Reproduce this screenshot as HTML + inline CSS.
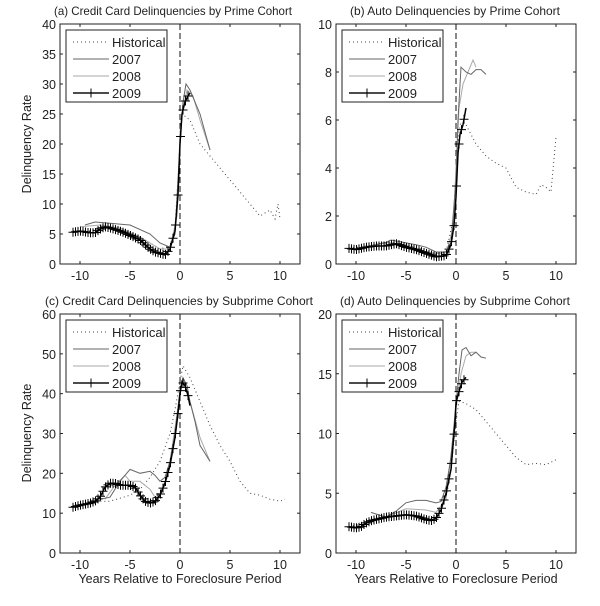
<!DOCTYPE html>
<html><head><meta charset="utf-8"><style>
body{margin:0;background:#fff}
svg text{font-family:"Liberation Sans",Arial,sans-serif;font-size:12.5px;fill:#222}
svg text.t{font-size:12px}
</style></head><body>
<svg id="s" width="600" height="601" xmlns="http://www.w3.org/2000/svg">
<rect width="600" height="601" fill="#fff"/>
<text class="t" x="54" y="15" textLength="238" lengthAdjust="spacingAndGlyphs">(a) Credit Card Delinquencies by Prime Cohort</text>
<text class="t" x="350" y="15" textLength="210" lengthAdjust="spacingAndGlyphs">(b) Auto Delinquencies by Prime Cohort</text>
<text class="t" x="45" y="305" textLength="268" lengthAdjust="spacingAndGlyphs">(c) Credit Card Delinquencies by Subprime Cohort</text>
<text class="t" x="340" y="305" textLength="230" lengthAdjust="spacingAndGlyphs">(d) Auto Delinquencies by Subprime Cohort</text>
<text transform="translate(31,144) rotate(-90)" text-anchor="middle">Delinquency Rate</text>
<text transform="translate(31,433) rotate(-90)" text-anchor="middle">Delinquency Rate</text>
<text x="180" y="583" text-anchor="middle">Years Relative to Foreclosure Period</text>
<text x="456" y="583" text-anchor="middle">Years Relative to Foreclosure Period</text>
<g id="g"></g>
</svg>
<script>
var NS="http://www.w3.org/2000/svg",G=document.getElementById('g');
function el(t,a,txt){var e=document.createElementNS(NS,t);for(var k in a)e.setAttribute(k,a[k]);if(txt!==undefined)e.textContent=txt;G.appendChild(e);return e;}
var panels=[
{l:60,t:24,b:264,ymax:40,ystep:5,
 h:[[-10.7,5.5],[-9,5.5],[-7.5,6.5],[-6,5.8],[-4,4.5],[-2,2.5],[-1,3],[-0.5,6],[0,20],[0.2,25],[1,24],[2,20],[3,18],[5,14],[6.5,11],[8,8],[9,9],[9.5,7.5],[9.8,10],[10,7.5]],
 a:[[-9.5,6.5],[-8.5,7],[-7,6.8],[-5,6.5],[-3,5],[-2,3.5],[-1,2.8],[-0.5,5],[0,20],[0.3,27],[0.6,30],[1,29],[2,25],[3,19]],
 c:[[-10,6.2],[-8,6.5],[-6,6],[-4,4.5],[-2,2.5],[-1,2.5],[-0.3,8],[0,22],[0.3,26],[0.7,29],[1.3,28],[2,24],[3,19]],
 d:[[-10.7,5.3],[-10,5.5],[-9,5.2],[-8.5,5.2],[-8,5.8],[-7.5,6.2],[-7,6],[-6,5.5],[-5,4.8],[-4,4],[-3,2.5],[-2.5,2],[-2,1.8],[-1.5,1.5],[-1,2.5],[-0.5,5.5],[-0.2,11.5],[0,20],[0.2,25],[0.5,27],[0.8,28],[1,28.5]]},
{l:336,t:24,b:264,ymax:10,ystep:2,
 h:[[-10.7,0.65],[-8,0.8],[-6,0.9],[-4,0.7],[-2,0.4],[-1,0.5],[-0.3,1.8],[0,3.5],[0.3,5.5],[0.5,5.9],[1,5.8],[2,5],[3,4.5],[4,4.2],[5,4],[6,3.2],[7,3],[8,2.9],[8.5,3.3],[9,3.2],[9.5,3],[10,5.3]],
 a:[[-9,0.7],[-7,0.9],[-6.5,1],[-4,0.8],[-3,0.7],[-2,0.5],[-1,0.5],[-0.5,0.9],[0,3.5],[0.2,6],[0.5,8.2],[1,8],[1.5,7.9],[2,8.1],[2.5,8.1],[3,7.9]],
 c:[[-9.5,0.7],[-7,0.9],[-5,0.8],[-3,0.5],[-1,0.4],[-0.3,1.5],[0,4],[0.3,6.5],[0.7,7.5],[1.2,8],[1.7,8.5],[2,8.2]],
 d:[[-10.7,0.65],[-10,0.6],[-9,0.7],[-8,0.75],[-7,0.75],[-6,0.85],[-5,0.7],[-4,0.6],[-3,0.45],[-2,0.3],[-1,0.35],[-0.5,0.8],[-0.2,1.6],[0,2.8],[0.2,4.6],[0.4,5.4],[0.7,5.8],[1,6.5]]},
{l:60,t:314,b:553,ymax:60,ystep:10,
 h:[[-10.7,11.5],[-8,13],[-7,13],[-5,14.5],[-4,16],[-3,19],[-2,23],[-1,30],[-0.5,36],[0,43],[0.3,47],[1,44],[2,38],[3,32],[4,27],[5,23],[6,18],[7,15],[8,14.5],[9,13.5],[10,13],[10.5,13.5]],
 a:[[-8,13.5],[-7,14],[-6,18],[-5,21],[-4,20],[-3,20.5],[-2.5,19.5],[-2,18],[-1.5,19],[-1,23],[-0.5,30],[0,41],[0.3,44],[0.7,42],[1,38],[1.5,33],[2,27],[2.5,25],[3,23]],
 c:[[-7.5,13.5],[-6.5,17],[-5.5,19.5],[-5,18],[-4,18],[-3,16],[-2.5,14],[-2,15],[-1.5,18],[-1,23],[0,40],[0.3,44],[1,38],[2,29],[3,23]],
 d:[[-10.7,11.5],[-10,12],[-9,12.5],[-8.5,13],[-8,14],[-7.5,16.5],[-7,17.5],[-6.5,17.5],[-6,17],[-5,17],[-4.5,16.5],[-4,14.5],[-3.5,13],[-3,12.5],[-2.5,13],[-2,14.5],[-1.5,17.5],[-1,22],[-0.5,29],[-0.2,35],[0,40],[0.2,43],[0.5,42],[0.8,39.5],[1,37]]},
{l:336,t:314,b:553,ymax:20,ystep:5,
 h:[[-10.7,2.2],[-9,2.5],[-7,3],[-5,3.2],[-3,2.9],[-2,3],[-1,4.5],[-0.5,7],[0,11],[0.3,12.7],[1,12.5],[2,12],[3,11],[4,10],[5,9],[6,8],[7,7.4],[8,7.5],[9,7.4],[10,7.8]],
 a:[[-8.5,3.4],[-7,3],[-6,3.5],[-5,4.2],[-4,4.4],[-3,4.4],[-2,4.2],[-1.5,4.3],[-1,5.5],[-0.5,8],[0,12.5],[0.3,15],[0.6,17],[1,17.2],[1.5,16.5],[2,16.8],[2.5,16.4],[3,16.3]],
 c:[[-9,2.6],[-7,3],[-5,3.7],[-3,3.6],[-2,3.4],[-1,4.5],[0,12],[0.5,15],[1,16.5],[1.5,16.8],[2,16.8]],
 d:[[-10.7,2.2],[-10,2.1],[-9.5,2.2],[-9,2.5],[-8.5,2.7],[-8,2.8],[-7,3],[-6,3.1],[-5,3.2],[-4,3.1],[-3,2.8],[-2.5,2.7],[-2,2.9],[-1.5,3.6],[-1,5],[-0.5,7],[-0.3,9],[-0.1,10.9],[0,12.6],[0.3,13.5],[0.6,14.3],[1,14.7]]}
];
panels.forEach(function(p){
 var r=p.l+240,H=p.b-p.t;
 function X(x){return p.l+(x+12)*10;}
 function Y(y){return p.b-y/p.ymax*H;}
 function pts(a){return a.map(function(q){return X(q[0]).toFixed(1)+','+Y(q[1]).toFixed(1)}).join(' ');}
 el('rect',{x:p.l,y:p.t,width:240,height:H,fill:'none',stroke:'#222','stroke-width':1});
 [-10,-5,0,5,10].forEach(function(v){var x=X(v);
  el('line',{x1:x,y1:p.b,x2:x,y2:p.b-3,stroke:'#222'});el('line',{x1:x,y1:p.t,x2:x,y2:p.t+3,stroke:'#222'});
  el('text',{x:x,y:p.b+16,'text-anchor':'middle'},String(v));});
 for(var v=0;v<=p.ymax;v+=p.ystep){var y=Y(v);
  el('line',{x1:p.l,y1:y,x2:p.l+3,y2:y,stroke:'#222'});el('line',{x1:r,y1:y,x2:r-3,y2:y,stroke:'#222'});
  el('text',{x:p.l-4,y:y+5,'text-anchor':'end'},String(v));}
 el('line',{x1:X(0),y1:p.t,x2:X(0),y2:p.b,stroke:'#111','stroke-dasharray':'6,3'});
 el('polyline',{points:pts(p.h),fill:'none',stroke:'#444','stroke-width':1,'stroke-dasharray':'1,3'});
 el('polyline',{points:pts(p.c),fill:'none',stroke:'#aaa','stroke-width':1});
 el('polyline',{points:pts(p.a),fill:'none',stroke:'#666','stroke-width':1});
 el('polyline',{points:pts(p.d),fill:'none',stroke:'#000','stroke-width':1.5});
 var d=p.d;
 for(var x=d[0][0];x<=d[d.length-1][0]+1e-6;x+=0.25){
  for(var i=0;i<d.length-1;i++){if(x>=d[i][0]-1e-9&&x<=d[i+1][0]+1e-9){var t=(x-d[i][0])/(d[i+1][0]-d[i][0]);var yy=d[i][1]+t*(d[i+1][1]-d[i][1]);
   var px=X(x),py=Y(yy);el('path',{d:'M'+(px-4.5)+','+py+'h9M'+px+','+(py-4.5)+'v9',stroke:'#000','stroke-width':1});break;}}
 }
 var lx=p.l+6,ly=p.t+6;
 el('rect',{x:lx,y:ly,width:101,height:72,fill:'#fff',stroke:'#222'});
 var rows=[['Historical','#444','1,3'],['2007','#666',''],['2008','#aaa',''],['2009','#111','']];
 rows.forEach(function(rw,i){var y=ly+12+i*17;
  var a={x1:lx+7,y1:y,x2:lx+43,y2:y,stroke:rw[1],'stroke-width':i==3?1.5:1};if(rw[2])a['stroke-dasharray']=rw[2];el('line',a);
  if(i==3)el('path',{d:'M'+(lx+25)+','+(y-4.5)+'v9',stroke:'#000'});
  el('text',{x:lx+46,y:y+5,style:'font-size:13px'},rw[0]);});
});
</script>
</body></html>
